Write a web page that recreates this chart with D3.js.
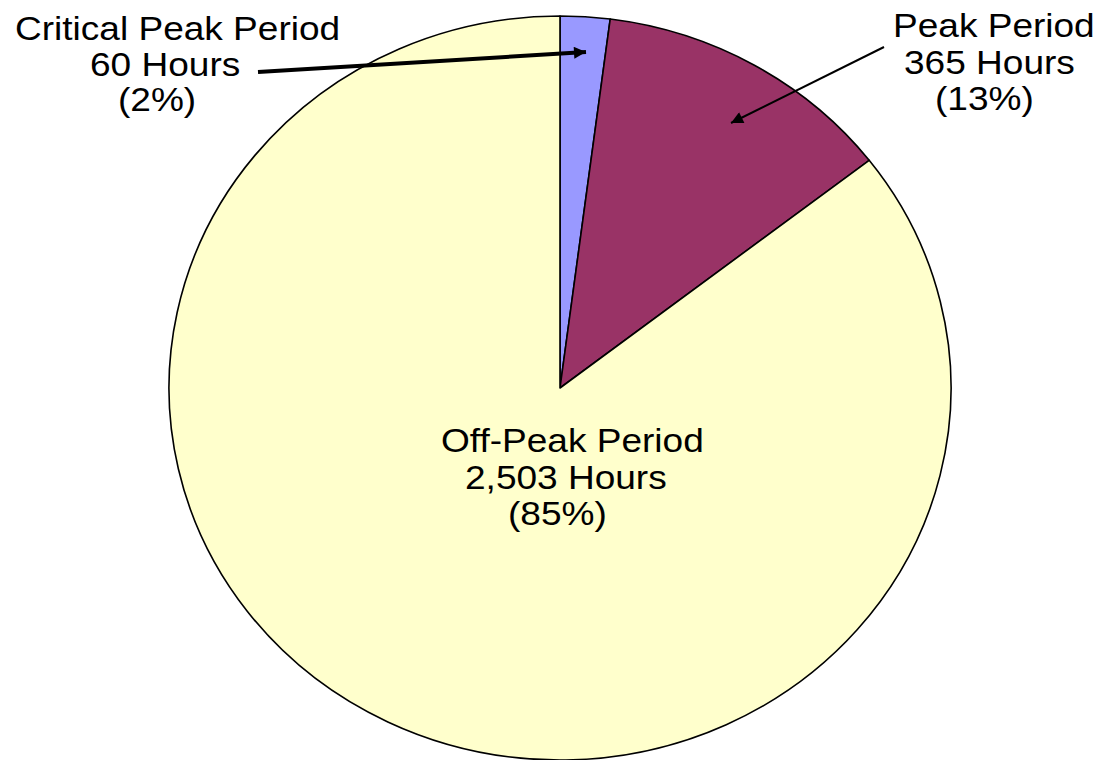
<!DOCTYPE html>
<html>
<head>
<meta charset="utf-8">
<script src="https://cdn.jsdelivr.net/npm/d3@7"></script>
<style>
  html, body { margin: 0; padding: 0; background: #fff; }
  svg { display: block; }
  text { font-family: "Liberation Sans", Arial, sans-serif; fill: #000; }
</style>
</head>
<body>
<svg id="chart" width="1101" height="760"></svg>
<script>
// ---- data ----
const categories = ["Critical Peak Period", "Peak Period", "Off-Peak Period"];
const hours = [60, 365, 2503];
const hourLabels = ["60 Hours", "365 Hours", "2,503 Hours"];
const percentLabels = ["(2%)", "(13%)", "(85%)"];
const colors = ["#9999FF", "#993366", "#FFFFCC"];

// ---- layout ----
const svg = d3.select("#chart");
const cx = 560, cy = 388, rx = 391, ry = 372;

const pie = d3.pie().sort(null).value(d => d)(hours);
const arc = d3.arc().innerRadius(0).outerRadius(rx);

const g = svg.append("g")
  .attr("transform", `translate(${cx},${cy}) scale(1,${ry / rx})`);

g.selectAll("path.slice")
  .data(pie)
  .join("path")
  .attr("class", "slice")
  .attr("d", arc)
  .attr("fill", (d, i) => colors[i])
  .attr("stroke", "#000")
  .attr("stroke-width", 1.6)
  .attr("vector-effect", "non-scaling-stroke")
  .attr("stroke-linejoin", "round");

// ---- arrow markers ----
const defs = svg.append("defs");
defs.append("marker")
  .attr("id", "arrowhead")
  .attr("viewBox", "0 0 10 10")
  .attr("refX", 10).attr("refY", 5)
  .attr("markerWidth", 15).attr("markerHeight", 12)
  .attr("markerUnits", "userSpaceOnUse")
  .attr("orient", "auto")
  .append("path").attr("d", "M0,0 L10,5 L0,10 Z").attr("fill", "#000");

// label line layout: [x of line start, baseline y] per category line
const labelPos = [
  [[15, 40], [90, 76], [118, 111]],
  [[893, 37], [904, 74], [935, 110]],
  [[441, 452], [465, 489], [508, 525]]
];
const arrows = [
  { from: [258, 72], to: [586, 52], w: 4 },
  { from: [884, 47], to: [731, 123], w: 2 },
  null
];

const sx = 1.14, fs = 32.5;
categories.forEach((c, i) => {
  const lines = [c, hourLabels[i], percentLabels[i]];
  lines.forEach((t, j) => {
    const [x, y] = labelPos[i][j];
    svg.append("text")
      .attr("transform", `translate(${x},${y}) scale(${sx},1)`)
      .attr("font-size", fs)
      .text(t);
  });
  const a = arrows[i];
  if (a) {
    svg.append("line")
      .attr("x1", a.from[0]).attr("y1", a.from[1])
      .attr("x2", a.to[0]).attr("y2", a.to[1])
      .attr("stroke", "#000")
      .attr("stroke-width", a.w)
      .attr("marker-end", "url(#arrowhead)");
  }
});
</script>
</body>
</html>
